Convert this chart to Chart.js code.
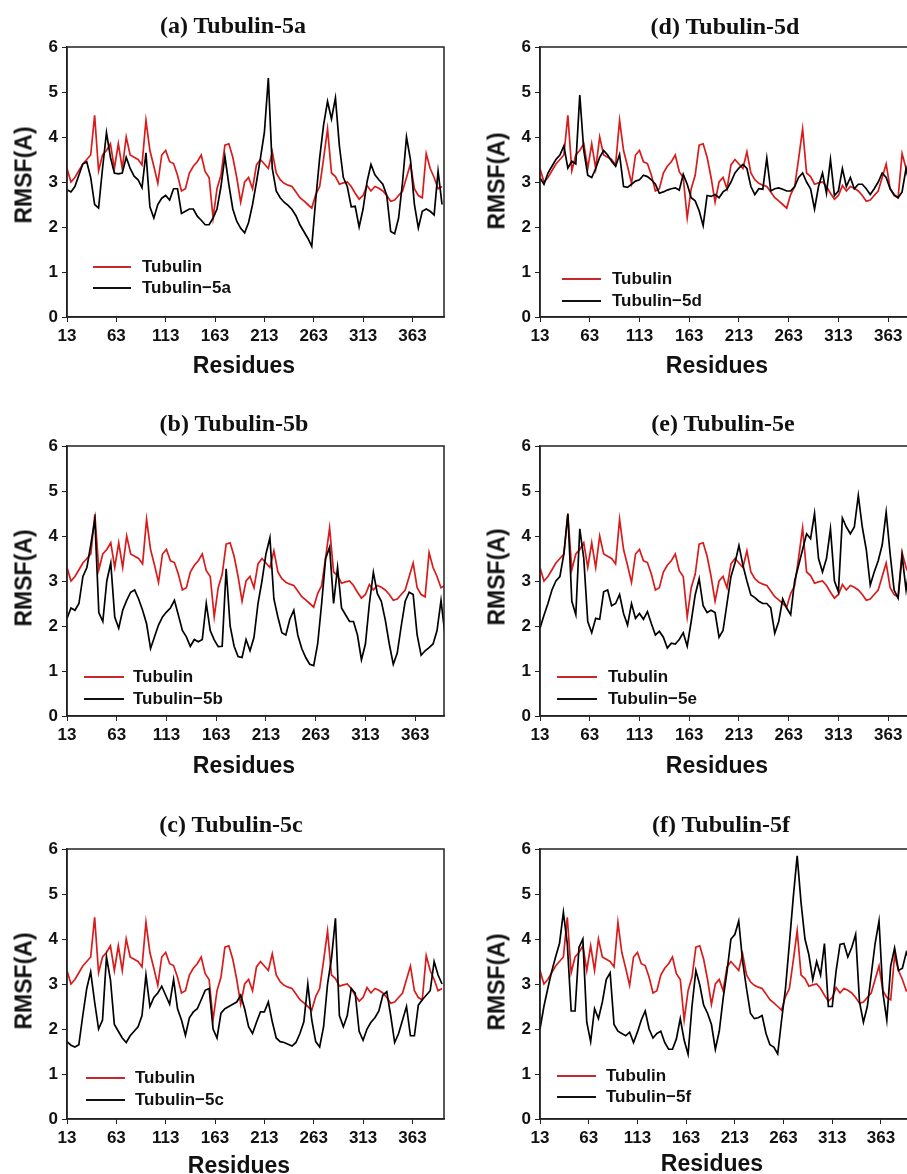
<!DOCTYPE html>
<html>
<head>
<meta charset="utf-8">
<script src="https://cdn.jsdelivr.net/npm/chart.js@4.4.0/dist/chart.umd.min.js"></script>
<style>
  body { margin: 0; background: #fff; }
  #page { position: relative; width: 907px; height: 1174px; overflow: hidden; background: #fff; }
  canvas { position: absolute; }
  .title { position: absolute; font: bold 24px "Liberation Serif", "Times New Roman", serif; white-space: nowrap; transform: translate(-50%, -50%); color: #111; }
  .axis { position: absolute; font: bold 23px "Liberation Sans", Arial, sans-serif; white-space: nowrap; transform: translate(-50%, -50%); color: #111; }
  .axis.y { transform: translate(-50%, -50%) rotate(-90deg); }
  .leg { position: absolute; font: bold 17px "Liberation Sans", Arial, sans-serif; white-space: nowrap; transform: translateY(-50%); color: #111; }
  .legline { position: absolute; height: 0; }
</style>
</head>
<body>
<div id="page"></div>
<script>
const residues = [13,17,21,25,29,33,37,41,45,49,53,57,61,65,69,73,77,81,85,89,
  93,97,101,105,109,113,117,121,125,129,133,137,141,145,149,153,157,161,165,169,
  173,177,181,185,189,193,197,201,205,209,213,217,221,225,229,233,237,241,245,249,
  253,257,261,265,269,273,277,281,285,289,293,297,301,305,309,313,317,321,325,329,
  333,337,341,345,349,353,357,361,365,369,373,377,381,385,389,393];

const tubulin = [3.3,3.0,3.1,3.25,3.4,3.5,3.6,4.48,3.25,3.6,
  3.7,3.85,3.3,3.85,3.3,4.0,3.6,3.55,3.5,3.38,
  4.37,3.7,3.35,2.97,3.6,3.7,3.45,3.41,3.15,2.8,
  2.85,3.2,3.35,3.45,3.6,3.23,3.1,2.2,2.85,3.15,
  3.82,3.85,3.55,3.1,2.55,3.0,3.1,2.85,3.38,3.5,
  3.4,3.3,3.67,3.2,3.05,2.97,2.93,2.9,2.78,2.65,
  2.58,2.5,2.42,2.72,2.9,3.52,4.18,3.2,3.12,2.95,
  2.98,3.0,2.9,2.75,2.62,2.7,2.92,2.8,2.9,2.86,
  2.8,2.7,2.57,2.6,2.7,2.8,3.1,3.4,2.85,2.7,
  2.65,3.63,3.3,3.1,2.85,2.9];

const tub5a = [2.83,2.78,2.9,3.15,3.4,3.45,3.1,2.5,2.42,3.3,
  4.1,3.55,3.2,3.18,3.2,3.55,3.3,3.13,3.05,2.87,
  3.65,2.45,2.2,2.5,2.64,2.7,2.6,2.85,2.85,2.3,
  2.35,2.4,2.4,2.24,2.15,2.05,2.05,2.2,2.4,2.9,
  3.57,2.94,2.4,2.13,1.97,1.87,2.1,2.5,3.0,3.53,
  4.1,5.31,3.3,2.8,2.65,2.55,2.48,2.39,2.25,2.05,
  1.9,1.75,1.57,2.6,3.53,4.27,4.79,4.4,4.87,3.8,
  3.1,2.9,2.45,2.46,2.0,2.4,3.0,3.39,3.16,3.05,
  2.95,2.7,1.9,1.85,2.2,3.0,4.0,3.5,2.5,1.98,
  2.35,2.4,2.35,2.27,3.24,2.5];

const tub5b = [2.17,2.4,2.35,2.5,3.1,3.3,3.82,4.37,2.3,2.1,
  3.0,3.4,2.2,1.95,2.35,2.57,2.75,2.8,2.6,2.35,
  2.05,1.5,1.76,2.02,2.2,2.31,2.4,2.57,2.24,1.9,
  1.76,1.55,1.7,1.65,1.7,2.5,1.9,1.69,1.54,1.55,
  3.27,2.0,1.55,1.32,1.3,1.7,1.45,1.75,2.5,3.0,
  3.6,3.96,2.6,2.2,1.85,1.8,2.15,2.35,1.8,1.5,
  1.3,1.15,1.12,1.6,2.5,3.5,3.75,2.5,3.3,2.4,
  2.25,2.1,2.1,1.8,1.25,1.6,2.5,3.19,2.72,2.55,
  2.13,1.6,1.15,1.4,2.0,2.55,2.75,2.7,1.8,1.35,
  1.45,1.52,1.6,1.9,2.57,1.8];

const tub5c = [1.72,1.64,1.6,1.65,2.3,2.9,3.27,2.6,2.0,2.2,
  3.6,3.1,2.1,1.95,1.8,1.7,1.85,1.95,2.05,2.3,
  3.2,2.5,2.7,2.8,2.95,2.75,2.55,3.1,2.45,2.2,
  1.86,2.25,2.38,2.45,2.65,2.86,2.9,2.0,1.8,2.35,
  2.45,2.5,2.55,2.6,2.75,2.45,2.05,1.9,2.15,2.38,
  2.38,2.6,2.16,1.8,1.72,1.7,1.66,1.62,1.7,1.9,
  2.16,3.0,2.2,1.72,1.6,2.05,3.0,3.57,4.46,2.3,
  2.05,2.3,2.9,2.8,1.95,1.75,2.0,2.15,2.25,2.4,
  2.75,2.83,2.3,1.7,1.9,2.2,2.5,1.85,1.85,2.53,
  2.65,2.75,2.85,3.5,3.2,3.0];

const tub5d = [3.09,2.95,3.2,3.35,3.5,3.6,3.8,3.31,3.46,3.4,
  4.93,3.7,3.15,3.1,3.3,3.55,3.7,3.6,3.46,3.35,
  3.61,2.9,2.88,2.95,3.02,3.05,3.15,3.12,3.05,2.95,
  2.75,2.78,2.82,2.85,2.87,2.82,3.17,2.95,2.65,2.58,
  2.36,2.03,2.7,2.68,2.72,2.65,2.78,2.84,3.0,3.2,
  3.31,3.39,3.3,2.9,2.72,2.85,2.84,3.53,2.8,2.85,
  2.87,2.84,2.8,2.8,2.9,3.1,3.2,3.0,2.85,2.4,
  2.9,3.2,2.75,3.5,2.7,2.8,3.3,2.9,3.1,2.85,
  2.95,2.95,2.85,2.72,2.85,3.0,3.2,3.1,2.85,2.72,
  2.65,2.78,3.3,2.9,3.0,2.9];

const tub5e = [1.95,2.24,2.5,2.8,3.0,3.1,3.6,4.5,2.55,2.25,
  4.16,3.5,2.1,1.85,2.17,2.15,2.76,2.8,2.45,2.5,
  2.7,2.28,2.02,2.5,2.17,2.28,2.15,2.32,2.05,1.8,
  1.88,1.75,1.51,1.62,1.6,1.7,1.85,1.55,2.1,2.69,
  3.05,2.45,2.3,2.35,2.3,1.75,1.9,2.5,3.1,3.4,
  3.79,3.35,3.0,2.69,2.63,2.55,2.5,2.5,2.4,1.84,
  2.1,2.6,2.4,2.25,3.0,3.35,3.7,4.05,3.94,4.5,
  3.5,3.2,3.5,4.16,3.0,2.76,4.4,4.2,4.05,4.2,
  4.9,4.2,3.7,2.91,3.2,3.45,3.8,4.53,3.6,2.8,
  2.62,3.57,2.8,3.4,2.7,3.0];

const tub5f = [2.0,2.5,2.9,3.28,3.6,3.9,4.59,3.9,2.4,2.4,
  3.81,4.0,2.15,1.72,2.45,2.23,2.6,3.1,3.25,2.1,
  1.95,1.9,1.85,1.93,1.7,1.93,2.2,2.4,2.0,1.8,
  1.9,1.95,1.7,1.55,1.55,1.78,2.23,1.75,1.44,2.5,
  3.3,2.98,2.53,2.35,2.1,1.55,1.95,2.68,3.28,4.0,
  4.1,4.4,3.5,2.9,2.35,2.23,2.25,2.3,1.9,1.65,
  1.6,1.45,2.2,2.9,3.9,4.93,5.85,4.8,4.0,3.65,
  3.1,3.5,3.2,3.9,2.5,2.5,3.3,3.88,3.9,3.6,
  3.81,4.1,2.6,2.15,2.5,3.2,3.9,4.4,2.8,2.2,
  3.4,3.8,3.3,3.35,3.7,3.5];

const xTicks = [13, 63, 113, 163, 213, 263, 313, 363];
const yMin = 0, yMax = 6;

const red = '#d81c1c';
const font = '"Liberation Sans", Arial, sans-serif';

const panels = [
  { label: '(a) Tubulin-5a', name: 'Tubulin\u22125a', values: tub5a, left: 0, top: 0, xMax: 395,
    title: [233, 25], yTitle: [24, 175], xTitle: [244, 365], legend: [93, 131, 267, 288, 142] },
  { label: '(b) Tubulin-5b', name: 'Tubulin\u22125b', values: tub5b, left: 0, top: 399, xMax: 392,
    title: [234, 423], yTitle: [24, 578], xTitle: [244, 765], legend: [84, 124, 677, 699, 133] },
  { label: '(c) Tubulin-5c', name: 'Tubulin\u22125c', values: tub5c, left: 0, top: 802, xMax: 395,
    title: [231, 824], yTitle: [24, 981], xTitle: [239, 1165], legend: [86, 125, 1078, 1100, 135] },
  { label: '(d) Tubulin-5d', name: 'Tubulin\u22125d', values: tub5d, left: 473, top: 0, xMax: 392,
    title: [725, 26], yTitle: [497, 181], xTitle: [717, 365], legend: [562, 601, 279, 301, 612] },
  { label: '(e) Tubulin-5e', name: 'Tubulin\u22125e', values: tub5e, left: 473, top: 399, xMax: 392,
    title: [723, 423], yTitle: [497, 577], xTitle: [717, 765], legend: [557, 597, 677, 699, 608] },
  { label: '(f) Tubulin-5f', name: 'Tubulin\u22125f', values: tub5f, left: 473, top: 802, xMax: 400,
    title: [721, 824], yTitle: [497, 982], xTitle: [712, 1163], legend: [557, 596, 1076, 1097, 606] }
];

const page = document.getElementById('page');

function addText(cls, text, x, y) {
  const d = document.createElement('div');
  d.className = cls;
  d.textContent = text;
  d.style.left = x + 'px';
  d.style.top = y + 'px';
  page.appendChild(d);
}

function addLegendLine(x1, x2, y, color) {
  const d = document.createElement('div');
  d.className = 'legline';
  d.style.left = x1 + 'px';
  d.style.top = (y - 1) + 'px';
  d.style.width = (x2 - x1) + 'px';
  d.style.borderTop = '2px solid ' + color;
  page.appendChild(d);
}

const frame = {
  id: 'frame',
  afterDraw(chart) {
    const a = chart.chartArea;
    const ctx = chart.ctx;
    ctx.save();
    ctx.strokeStyle = '#222';
    ctx.lineWidth = 1.5;
    ctx.strokeRect(a.left, a.top, a.right - a.left, a.bottom - a.top);
    ctx.restore();
  }
};

function axisStyle() {
  return {
    grid: { drawOnChartArea: false, drawTicks: true, tickLength: 5, color: '#222', tickWidth: 1 },
    border: { color: '#222', width: 1.5 },
    ticks: { color: '#111', font: { family: font, size: 17, weight: 'bold' }, padding: 4, maxRotation: 0, autoSkip: false }
  };
}

function makePanel(p) {
  const canvas = document.createElement('canvas');
  canvas.width = 450;
  canvas.height = 380;
  canvas.style.left = p.left + 'px';
  canvas.style.top = p.top + 'px';
  page.appendChild(canvas);

  const xAxis = axisStyle();
  const yAxis = axisStyle();
  yAxis.ticks.stepSize = 1;

  new Chart(canvas, {
    type: 'line',
    data: {
      datasets: [
        {
          label: p.name,
          data: residues.map((r, i) => ({ x: r, y: p.values[i] })),
          borderColor: '#000',
          borderWidth: 1.7,
          pointRadius: 0,
          order: 0
        },
        {
          label: 'Tubulin',
          data: residues.map((r, i) => ({ x: r, y: tubulin[i] })),
          borderColor: red,
          borderWidth: 1.7,
          pointRadius: 0,
          order: 1
        }
      ]
    },
    options: {
      responsive: false,
      animation: false,
      layout: { padding: { top: 47, right: 6, left: 0, bottom: 0 } },
      plugins: { legend: { display: false }, tooltip: { enabled: false }, title: { display: false } },
      scales: {
        x: Object.assign(xAxis, {
          type: 'linear',
          min: 13,
          max: p.xMax,
          afterBuildTicks: s => { s.ticks = xTicks.map(v => ({ value: v })); },
          afterFit: s => { s.height = 63; }
        }),
        y: Object.assign(yAxis, {
          min: yMin,
          max: yMax,
          afterFit: s => { s.width = 67; }
        })
      }
    },
    plugins: [frame]
  });

  addText('title', p.label, p.title[0], p.title[1]);
  addText('axis y', 'RMSF(A)', p.yTitle[0], p.yTitle[1]);
  addText('axis', 'Residues', p.xTitle[0], p.xTitle[1]);

  const [x1, x2, yRed, yBlack, tx] = p.legend;
  addLegendLine(x1, x2, yRed, '#c8282d');
  addLegendLine(x1, x2, yBlack, '#111');
  addText('leg', 'Tubulin', tx, yRed);
  addText('leg', p.name, tx, yBlack);
}

panels.forEach(makePanel);
</script>
</body>
</html>
